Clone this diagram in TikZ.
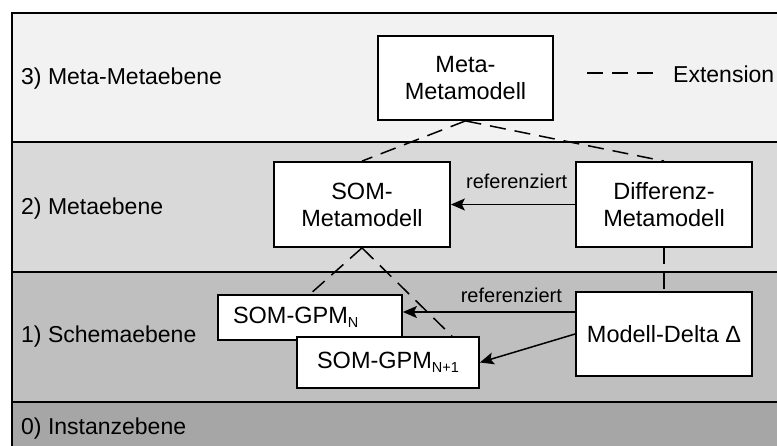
\documentclass[tikz,border=0pt]{standalone}
\usepackage{fontspec}
\setmainfont{Liberation Sans}
\usetikzlibrary{arrows.meta,calc}
\definecolor{cthree}{HTML}{F2F2F2}
\definecolor{ctwo}{HTML}{D9D9D9}
\definecolor{cone}{HTML}{BFBFBF}
\definecolor{czero}{HTML}{A6A6A6}
\newcommand{\subN}[1]{\raisebox{-4pt}{\fontsize{14.5}{14.5}\selectfont #1}}
\begin{document}
\begin{tikzpicture}[x=1pt,y=-1pt,
 band/.style={draw=black,line width=1.8pt},
 box/.style={draw=black,fill=white,line width=1.8pt,inner sep=0pt,align=center,font=\fontsize{23.5}{27}\selectfont},
 lay/.style={anchor=base west,inner sep=0pt,font=\fontsize{23}{27}\selectfont},
 ext/.style={dash pattern=on 16pt off 9pt,line width=1.5pt},
 arr/.style={-{Stealth[length=14pt,width=12pt,inset=3pt]},line width=1.5pt},
 lbl/.style={anchor=base,inner sep=0pt,font=\fontsize{20}{24}\selectfont}]
\clip (0,0) rectangle (777,446);
\fill[white] (0,0) rectangle (777,446);
\draw[band,fill=cthree] (12,13) rectangle (790,142);
\draw[band,fill=ctwo] (12,142) rectangle (790,272);
\draw[band,fill=cone] (12,272) rectangle (790,402);
\draw[band,fill=czero] (12,402) rectangle (790,460);
\node[lay] (L3) at (21,85) {3) Meta-Metaebene};
\node[lay] (L2) at (21,215) {2) Metaebene};
\node[lay] (L1) at (21,343) {1) Schemaebene};
\node[lay] (L0) at (21,435) {0) Instanzebene};
\node[box,minimum width=175pt,minimum height=84pt] (mm) at (465.5,78) {Meta-\\Metamodell};
\node[box,minimum width=176pt,minimum height=85pt] (som) at (362,204.5) {SOM-\\Metamodell};
\node[box,minimum width=176pt,minimum height=85pt] (diff) at (664,204.5) {Differenz-\\Metamodell};
\node[box,minimum width=176pt,minimum height=84pt] (delta) at (664,334) {Modell-Delta Δ};
\node[box,minimum height=45pt,text width=154pt,inner xsep=15pt,align=left] (gpmN) at (310,317.5) {SOM-GPM\subN{N}};
\node[box,minimum width=182pt,minimum height=51pt] (gpmN1) at (388,362.5) {SOM-GPM\subN{N+1}};
\coordinate (l1) at (587,73);
\coordinate (l2) at (658,73);
\draw[ext] (l1) -- (l2);
\node[lay] (extlbl) at (673,83) {Extension};
\draw[ext] (mm.south) -- (som.north);
\draw[ext] (mm.south) -- (diff.north);
\draw[ext] (diff.south) -- (delta.north);
\draw[arr] (diff.west) -- node[lbl,pos=0.47,yshift=16pt]{referenziert} (som.east);
\coordinate (d1) at ([yshift=22pt]delta.west);
\draw[arr] (d1) -- node[lbl,pos=0.37,yshift=9pt]{referenziert} (d1 -| gpmN.east);
\draw[arr] (delta.west) -- (gpmN1.east);
\draw[ext] (som.south) -- (gpmN.north);
\draw[ext] (som.south) -- ([xshift=64pt]gpmN1.north);
\end{tikzpicture}
\end{document}
